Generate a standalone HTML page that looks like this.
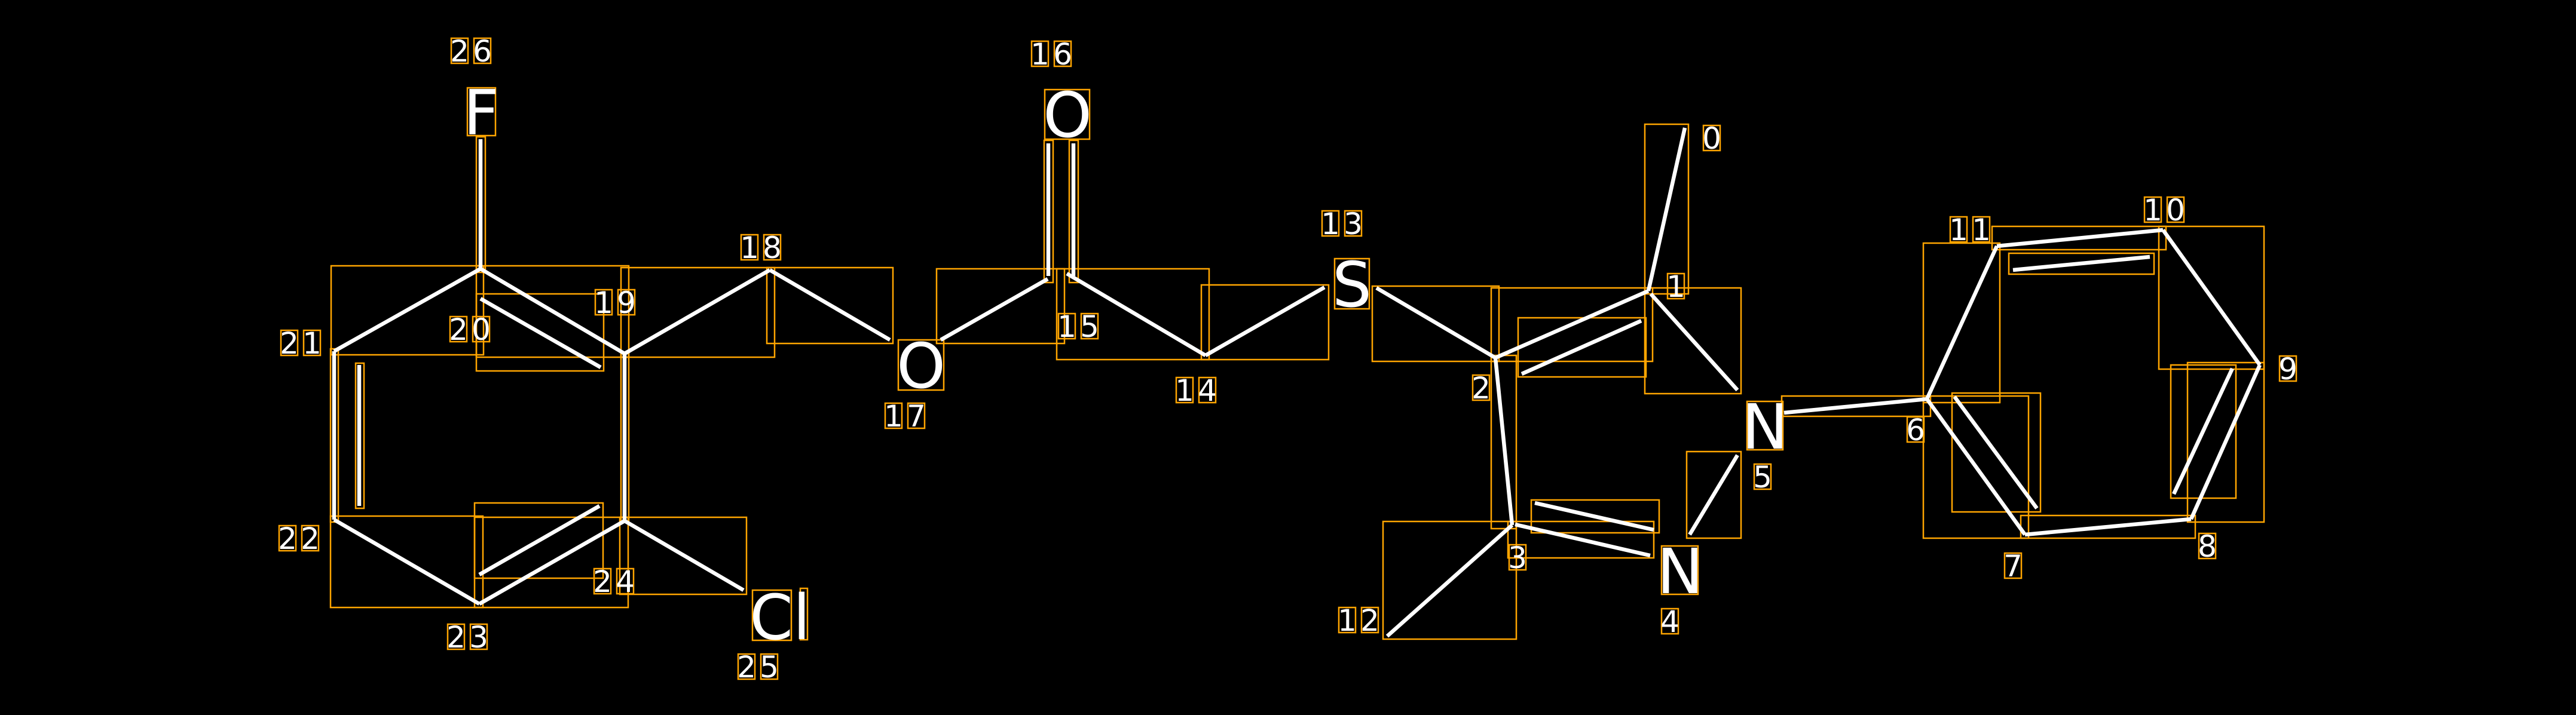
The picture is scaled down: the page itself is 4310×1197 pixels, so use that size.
<!DOCTYPE html>
<html><head><meta charset="utf-8"><style>
html,body{margin:0;padding:0;background:#000;}
svg{display:block;}
.b line{stroke:#fff;stroke-width:6.5;stroke-linecap:butt;}
.r rect{fill:none;stroke:#FFA500;stroke-width:2.5;}
.d{font-family:"DejaVu Sans","Liberation Sans",sans-serif;font-size:50px;fill:#fff;text-anchor:middle;}
.a{font-family:"DejaVu Sans","Liberation Sans",sans-serif;font-size:104px;fill:#fff;text-anchor:middle;}
</style></head><body>
<svg width="4310" height="1197" viewBox="0 0 4310 1197" xmlns="http://www.w3.org/2000/svg">
<rect width="4310" height="1197" fill="#000"/>
<g class="r">
<rect x="797" y="229" width="15" height="227"/>
<rect x="554" y="445" width="255" height="149"/>
<rect x="797" y="445" width="255" height="153"/>
<rect x="797" y="492" width="213" height="129"/>
<rect x="553" y="584" width="13" height="290"/>
<rect x="595" y="608" width="14" height="243"/>
<rect x="553" y="864" width="255" height="153"/>
<rect x="794" y="866" width="257" height="151"/>
<rect x="794" y="842" width="215" height="126"/>
<rect x="1039" y="592" width="13" height="282"/>
<rect x="1037" y="866" width="212" height="129"/>
<rect x="1039" y="448" width="257" height="150"/>
<rect x="1283" y="448" width="211" height="127"/>
<rect x="1567" y="450" width="214" height="125"/>
<rect x="1747" y="235" width="15" height="238"/>
<rect x="1789" y="235" width="15" height="238"/>
<rect x="1768" y="450" width="255" height="152"/>
<rect x="2010" y="477" width="213" height="125"/>
<rect x="2296" y="479" width="212" height="126"/>
<rect x="2495" y="482" width="270" height="123"/>
<rect x="2540" y="532" width="214" height="99"/>
<rect x="2752" y="208" width="73" height="284"/>
<rect x="2752" y="482" width="161" height="177"/>
<rect x="2495" y="595" width="42" height="290"/>
<rect x="2523" y="873" width="244" height="61"/>
<rect x="2562" y="837" width="214" height="55"/>
<rect x="2314" y="873" width="223" height="197"/>
<rect x="2822" y="756" width="91" height="145"/>
<rect x="2981" y="663" width="249" height="34"/>
<rect x="3218" y="407" width="128" height="267"/>
<rect x="3333" y="379" width="291" height="39"/>
<rect x="3361" y="424" width="243" height="35"/>
<rect x="3612" y="379" width="176" height="239"/>
<rect x="3660" y="607" width="128" height="267"/>
<rect x="3632" y="611" width="109" height="223"/>
<rect x="3218" y="663" width="176" height="238"/>
<rect x="3266" y="658" width="148" height="199"/>
<rect x="3381" y="863" width="292" height="38"/>
<!-- atom label boxes -->
<rect x="782" y="147" width="47" height="80"/>
<rect x="1748" y="150" width="75" height="83"/>
<rect x="1503" y="569" width="76" height="84"/>
<rect x="2233" y="433" width="58" height="84"/>
<rect x="2923" y="672" width="60" height="81"/>
<rect x="2780" y="914" width="61" height="81"/>
<rect x="1259" y="988" width="65" height="84"/>
<rect x="1339" y="985" width="12" height="86"/>
<!-- digit boxes -->
<rect x="755" y="64" width="28" height="42"/><rect x="793" y="64" width="28" height="42"/>
<rect x="470" y="553" width="28" height="42"/><rect x="508" y="553" width="28" height="42"/>
<rect x="467" y="880" width="28" height="42"/><rect x="505" y="880" width="28" height="42"/>
<rect x="749" y="1045" width="28" height="42"/><rect x="787" y="1045" width="28" height="42"/>
<rect x="994" y="952" width="28" height="42"/><rect x="1032" y="952" width="28" height="42"/>
<rect x="753" y="530" width="28" height="42"/><rect x="791" y="530" width="28" height="42"/>
<rect x="996" y="485" width="28" height="42"/><rect x="1034" y="485" width="28" height="42"/>
<rect x="1240" y="393" width="28" height="42"/><rect x="1278" y="393" width="28" height="42"/>
<rect x="1481" y="675" width="28" height="42"/><rect x="1519" y="675" width="28" height="42"/>
<rect x="1235" y="1095" width="28" height="42"/><rect x="1273" y="1095" width="28" height="42"/>
<rect x="1726" y="69" width="28" height="42"/><rect x="1764" y="69" width="28" height="42"/>
<rect x="1771" y="525" width="28" height="42"/><rect x="1809" y="525" width="28" height="42"/>
<rect x="1968" y="632" width="28" height="42"/><rect x="2006" y="632" width="28" height="42"/>
<rect x="2212" y="353" width="28" height="42"/><rect x="2250" y="353" width="28" height="42"/>
<rect x="2464" y="628" width="28" height="42"/>
<rect x="2790" y="458" width="28" height="42"/>
<rect x="2850" y="210" width="28" height="42"/>
<rect x="2935" y="777" width="28" height="42"/>
<rect x="2780" y="1019" width="28" height="42"/>
<rect x="2240" y="1017" width="28" height="42"/><rect x="2278" y="1017" width="28" height="42"/>
<rect x="2525" y="912" width="28" height="42"/>
<rect x="3263" y="363" width="28" height="42"/><rect x="3301" y="363" width="28" height="42"/>
<rect x="3588" y="330" width="28" height="42"/><rect x="3626" y="330" width="28" height="42"/>
<rect x="3814" y="596" width="28" height="42"/>
<rect x="3679" y="893" width="28" height="42"/>
<rect x="3354" y="926" width="28" height="42"/>
<rect x="3191" y="698" width="28" height="42"/>
</g>
<g class="b">
<line x1="804" y1="233" x2="804" y2="450"/>
<line x1="804" y1="450" x2="559" y2="588"/>
<line x1="804" y1="450" x2="1045" y2="592"/>
<line x1="804" y1="500" x2="1005" y2="615"/>
<line x1="559" y1="588" x2="559" y2="870"/>
<line x1="601" y1="611" x2="601" y2="847"/>
<line x1="559" y1="870" x2="802" y2="1011"/>
<line x1="802" y1="1011" x2="1045" y2="872"/>
<line x1="802" y1="962" x2="1003" y2="847"/>
<line x1="1045" y1="592" x2="1045" y2="872"/>
<line x1="1045" y1="872" x2="1244" y2="988"/>
<line x1="1045" y1="592" x2="1288" y2="452"/>
<line x1="1288" y1="452" x2="1489" y2="569"/>
<line x1="1574" y1="569" x2="1753" y2="467"/>
<line x1="1754" y1="240" x2="1754" y2="462"/>
<line x1="1796" y1="240" x2="1796" y2="462"/>
<line x1="1785" y1="458" x2="2017" y2="595"/>
<line x1="2017" y1="595" x2="2216" y2="481"/>
<line x1="2303" y1="482" x2="2502" y2="599"/>
<line x1="2502" y1="599" x2="2758" y2="487"/>
<line x1="2546" y1="626" x2="2746" y2="537"/>
<line x1="2758" y1="487" x2="2819" y2="214"/>
<line x1="2762" y1="492" x2="2907" y2="653"/>
<line x1="2502" y1="599" x2="2530" y2="879"/>
<line x1="2535" y1="878" x2="2761" y2="930"/>
<line x1="2568" y1="842" x2="2767" y2="887"/>
<line x1="2530" y1="879" x2="2321" y2="1065"/>
<line x1="2827" y1="895" x2="2907" y2="762"/>
<line x1="2985" y1="691" x2="3224" y2="668"/>
<line x1="3224" y1="668" x2="3341" y2="412"/>
<line x1="3341" y1="412" x2="3619" y2="385"/>
<line x1="3368" y1="452" x2="3597" y2="430"/>
<line x1="3619" y1="385" x2="3781" y2="611"/>
<line x1="3781" y1="611" x2="3666" y2="869"/>
<line x1="3735" y1="617" x2="3637" y2="827"/>
<line x1="3666" y1="869" x2="3388" y2="895"/>
<line x1="3388" y1="895" x2="3224" y2="668"/>
<line x1="3270" y1="664" x2="3408" y2="851"/>
</g>
<g class="a">
<text x="805" y="225">F</text>
<text x="1786" y="229">O</text>
<text x="1541" y="649">O</text>
<text x="2262" y="513">S</text>
<text x="2953" y="751">N</text>
<text x="2811" y="993">N</text>
<text x="1305" y="1070">Cl</text>
</g>
<g class="d">
<text x="769" y="103">2</text><text x="807" y="103">6</text>
<text x="484" y="592">2</text><text x="522" y="592">1</text>
<text x="481" y="919">2</text><text x="519" y="919">2</text>
<text x="763" y="1084">2</text><text x="801" y="1084">3</text>
<text x="1008" y="991">2</text><text x="1046" y="991">4</text>
<text x="767" y="569">2</text><text x="805" y="569">0</text>
<text x="1010" y="524">1</text><text x="1048" y="524">9</text>
<text x="1254" y="432">1</text><text x="1292" y="432">8</text>
<text x="1495" y="714">1</text><text x="1533" y="714">7</text>
<text x="1249" y="1134">2</text><text x="1287" y="1134">5</text>
<text x="1740" y="108">1</text><text x="1778" y="108">6</text>
<text x="1785" y="564">1</text><text x="1823" y="564">5</text>
<text x="1982" y="671">1</text><text x="2020" y="671">4</text>
<text x="2226" y="392">1</text><text x="2264" y="392">3</text>
<text x="2478" y="667">2</text>
<text x="2804" y="497">1</text>
<text x="2864" y="249">0</text>
<text x="2949" y="816">5</text>
<text x="2794" y="1058">4</text>
<text x="2254" y="1056">1</text><text x="2292" y="1056">2</text>
<text x="2539" y="951">3</text>
<text x="3277" y="402">1</text><text x="3315" y="402">1</text>
<text x="3602" y="369">1</text><text x="3640" y="369">0</text>
<text x="3828" y="635">9</text>
<text x="3693" y="932">8</text>
<text x="3368" y="965">7</text>
<text x="3205" y="737">6</text>
</g>
</svg>
</body></html>
